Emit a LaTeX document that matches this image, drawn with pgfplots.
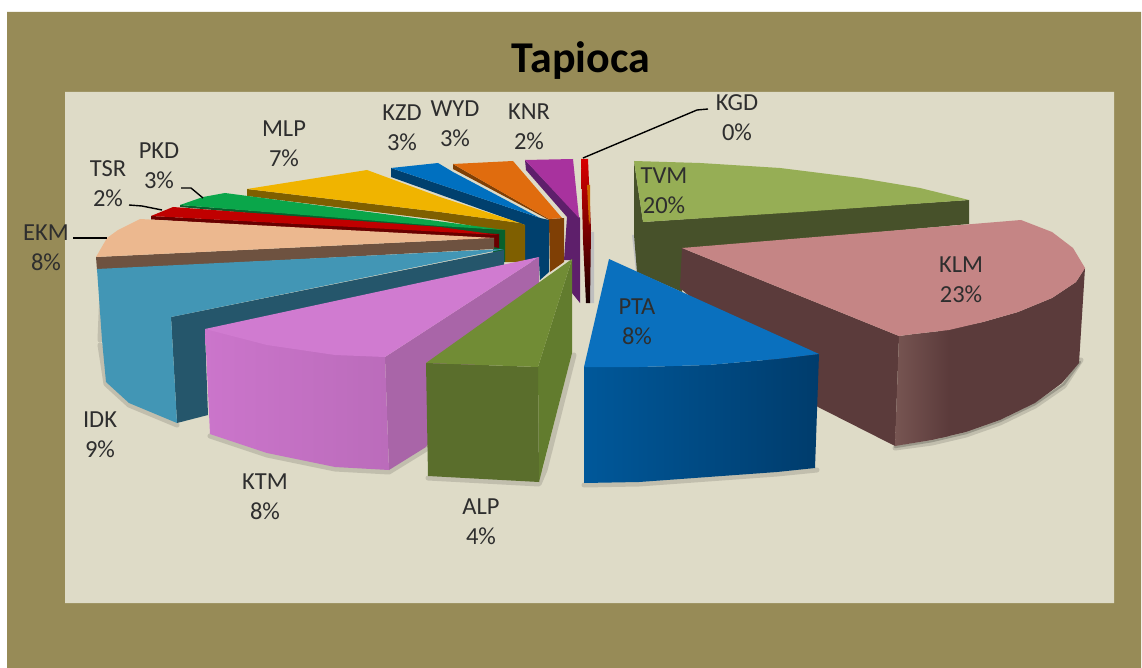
\documentclass[border=0pt]{standalone}
\usepackage{pgfplots}
\pgfplotsset{compat=1.18}
\usepackage{fontspec}
\setmainfont{Carlito}
\definecolor{olivebg}{HTML}{978B57}
\definecolor{panel}{HTML}{DEDBC7}
\definecolor{tvmT}{HTML}{96AE55}\definecolor{tvmS}{HTML}{47512A}
\definecolor{klmT}{HTML}{C58585}\definecolor{klmS}{HTML}{5B3B3B}\definecolor{klmL}{HTML}{775552}
\definecolor{ptaT}{HTML}{0A70BE}\definecolor{ptaA}{HTML}{00589A}\definecolor{ptaB}{HTML}{003C6C}
\definecolor{alpT}{HTML}{718C35}\definecolor{alpF}{HTML}{5A6E2C}\definecolor{alpR}{HTML}{627C2E}
\definecolor{ktmT}{HTML}{D07BD0}\definecolor{ktmF}{HTML}{CB75CB}\definecolor{ktmR}{HTML}{A965A8}
\definecolor{idkT}{HTML}{4296B5}\definecolor{idkS}{HTML}{25566B}
\definecolor{ekmT}{HTML}{ECB88F}\definecolor{ekmS}{HTML}{6E5240}
\definecolor{tsrT}{HTML}{C00000}\definecolor{tsrS}{HTML}{680000}
\definecolor{pkdT}{HTML}{0AA64A}\definecolor{pkdS}{HTML}{07602C}
\definecolor{mlpT}{HTML}{F0B400}\definecolor{mlpS}{HTML}{7F5F00}
\definecolor{kzdT}{HTML}{0070C0}\definecolor{kzdS}{HTML}{00406E}
\definecolor{wydT}{HTML}{E06C0E}\definecolor{wydS}{HTML}{7F3F05}
\definecolor{knrT}{HTML}{A8329E}\definecolor{knrS}{HTML}{5E1F6B}
\newcommand{\lab}[3]{\node[align=center,text=black!82,font=\fontsize{24.5}{30}\selectfont] at (axis cs:#1,#2) {#3};}
\pgfplotsset{
  pc/.style={draw=none,fill=#1},
  gr/.style n args={2}{draw=none,left color=#1,right color=#2},
  sh/.style={draw=black,opacity=.13,line width=5pt,line join=round,line cap=round},
  sh2/.style={draw=black,opacity=.2,line width=2.5pt,line join=round,line cap=round},
  ld/.style={draw=black,line width=1.4pt,line join=round}
}
\begin{document}
\begin{tikzpicture}
\begin{axis}[hide axis,scale only axis,width=1142pt,height=668pt,
  xmin=0,xmax=1142,ymin=0,ymax=668,y dir=reverse,clip=true,no markers]
% backgrounds
\addplot[pc=white] coordinates {(0,0)(1142,0)(1142,668)(0,668)(0,0)};
\addplot[pc=olivebg] coordinates {(7,12)(1141,12)(1141,668)(7,668)(7,12)};
\addplot[pc=panel] coordinates {(65,92)(1114,92)(1114,603)(65,603)(65,92)};
% shadows
\addplot[sh] coordinates {(1081,360)(1064,386)(1035,406)(1000,423)(966,435)(932,443)(895,448)};
\addplot[sh2] coordinates {(1080,362)(1064,384)(1035,404)(1000,421)(966,433)(932,441)(895,447)};
\addplot[sh] coordinates {(584,485)(639,484)(708,479)(777,474)(817,470)};
\addplot[sh] coordinates {(210,436)(267,455)(335,469)(389,472)(428,448)};
\addplot[sh] coordinates {(428,478)(539,484)(545,470)(574,355)};
\addplot[sh] coordinates {(100,345)(106,384)(129,405)(177,425)};
\addplot[sh] coordinates {(102,290)(100,340)};
\addplot[pc={black!25}] coordinates {(589,232)(594,232)(594,303)(589,303)(589,232)};
\addplot[pc={black!25}] coordinates {(632,235)(638,235)(640,272)(636,272)(632,235)};
% TVM
\addplot[pc=tvmS] coordinates {(634,161)(643,222)(969,200)(969,224)(682,250)(682,292)(637,272)(634,235)(634,161)};
\addplot[pc=tvmT] coordinates {(634,161)(700,163)(780,168)(860,178)(920,188)(969,200)(800,212)(643,222)(634,161)};
% KLM
\addplot[pc=klmS] coordinates {(682,248)(899,336)(895,446)(818,407)(680,288)(682,248)};
\addplot[pc=klmS] coordinates {(940,331)(983,322)(1018,312)(1052,298)(1076,282)(1085,268)(1079,363)(1062,383)(1035,403)(1000,420)(966,432)(949,436)(940,438)(940,331)};
\addplot[gr={klmL}{klmS}] coordinates {(899,336)(914,334)(949,330)(949,436)(932,440)(895,446)(899,336)};
\addplot[pc=klmT] coordinates {(682,248)(1021,220)(1052,232)(1073,248)(1085,268)(1076,282)(1052,298)(1018,312)(983,322)(949,330)(914,334)(899,336)(682,248)};
% PTA
\addplot[gr={ptaA}{ptaB}] coordinates {(584,367)(639,367)(708,365)(777,359)(819,354)(815,468)(777,472)(708,477)(639,482)(584,483)(584,367)};
\addplot[pc=ptaT] coordinates {(609,259)(819,354)(777,359)(708,365)(639,367)(584,367)(609,259)};
% KGD
\addplot[draw=none,top color=red!85!black,bottom color=black!90!red] coordinates {(581,159)(588,159)(591,230)(590,303)(586,303)(583,240)(581,159)};
\addplot[pc=orange!80!black] coordinates {(587,185)(590,185)(590,220)(589,225)(587,185)};
% KNR
\addplot[pc=knrS] coordinates {(525,160)(580,218)(580,303)(572,293)(572,260)(564,260)(567,217)(526,170)(525,160)};
\addplot[pc=knrT] coordinates {(525,160)(573,159)(579,218)(525,160)};
% WYD
\addplot[pc=wydS] coordinates {(453,164)(549,219)(564,218)(564,262)(550,272)(549,220)(453,169)(453,164)};
\addplot[pc=wydT] coordinates {(453,164)(513,161)(562,218)(549,219)(453,164)};
% KZD
\addplot[pc=kzdS] coordinates {(391,168)(540,218)(549,220)(549,272)(540,280)(539,262)(525,262)(525,225)(391,177)(391,168)};
\addplot[pc=kzdT] coordinates {(391,168)(438,163)(453,172)(540,218)(391,168)};
% MLP
\addplot[pc=mlpS] coordinates {(247,189)(440,212)(520,223)(525,225)(525,262)(505,262)(505,232)(440,220)(247,196)(247,189)};
\addplot[pc=mlpT] coordinates {(247,189)(367,170)(440,197)(520,223)(440,212)(247,189)};
% PKD
\addplot[pc=pkdS] coordinates {(180,205)(505,230)(505,262)(493,262)(493,236)(440,230)(180,207)(180,205)};
\addplot[pc=pkdT] coordinates {(180,205)(203,197)(225,193)(505,230)(440,226)(180,205)};
% TSR
\addplot[pc=tsrS] coordinates {(151,216)(499,234)(499,248)(440,237)(151,219.5)(151,216)};
\addplot[pc=tsrT] coordinates {(151,216)(173,207)(440,227)(499,235)(151,216)};
% EKM
\addplot[pc=ekmS] coordinates {(96,257)(494,238)(494,249)(97,270)(96,257)};
\addplot[pc=ekmT] coordinates {(96,257)(107,238)(118,230)(140,219)(440,235)(494,238)(96,257)};
% IDK
\addplot[pc=idkS] coordinates {(171,317)(504,250)(504,272)(205,332)(208,415)(177,423)(171,317)};
\addplot[pc=idkT] coordinates {(97,269)(504,249)(171,317)(177,423)(129,403)(106,382)(102,340)(97,269)};
% KTM
\addplot[pc=ktmR] coordinates {(385,357)(539,257)(539,290)(426,447)(389,470)(385,357)};
\addplot[gr={ktmF}{ktmF!92!black}] coordinates {(205,329)(385,357)(389,470)(335,467)(267,453)(210,434)(205,329)};
\addplot[pc=ktmT] coordinates {(205,329)(267,345)(335,355)(385,357)(539,257)(205,329)};
% ALP
\addplot[pc=alpR] coordinates {(538,367)(572,259)(572,353)(539,482)(538,367)};
\addplot[pc=alpF] coordinates {(426,363)(538,367)(539,482)(428,476)(426,363)};
\addplot[pc=alpT] coordinates {(426,363)(572,259)(538,367)(426,363)};
% leader lines
\addplot[ld] coordinates {(583,158)(697,110)(708,109)};
\addplot[ld] coordinates {(73,238)(107,238)};
\addplot[ld] coordinates {(129,205)(142,206)(162,210)};
\addplot[ld] coordinates {(181,188)(191,188)(203,198)};
% labels
\node[font=\fontsize{44}{50}\selectfont\bfseries,text=black] at (axis cs:581,61) {Tapioca};
\lab{664}{191}{TVM\\20\%}
\lab{737}{118}{KGD\\0\%}
\lab{529}{127}{KNR\\2\%}
\lab{455}{124}{WYD\\3\%}
\lab{402}{128}{KZD\\3\%}
\lab{284}{144}{MLP\\7\%}
\lab{159}{166}{PKD\\3\%}
\lab{108}{184}{TSR\\2\%}
\lab{46}{248}{EKM\\8\%}
\lab{100}{435}{IDK\\9\%}
\lab{265}{497}{KTM\\8\%}
\lab{481}{522}{ALP\\4\%}
\lab{637}{322}{PTA\\8\%}
\lab{961}{280}{KLM\\23\%}
\end{axis}
\end{tikzpicture}
\end{document}
